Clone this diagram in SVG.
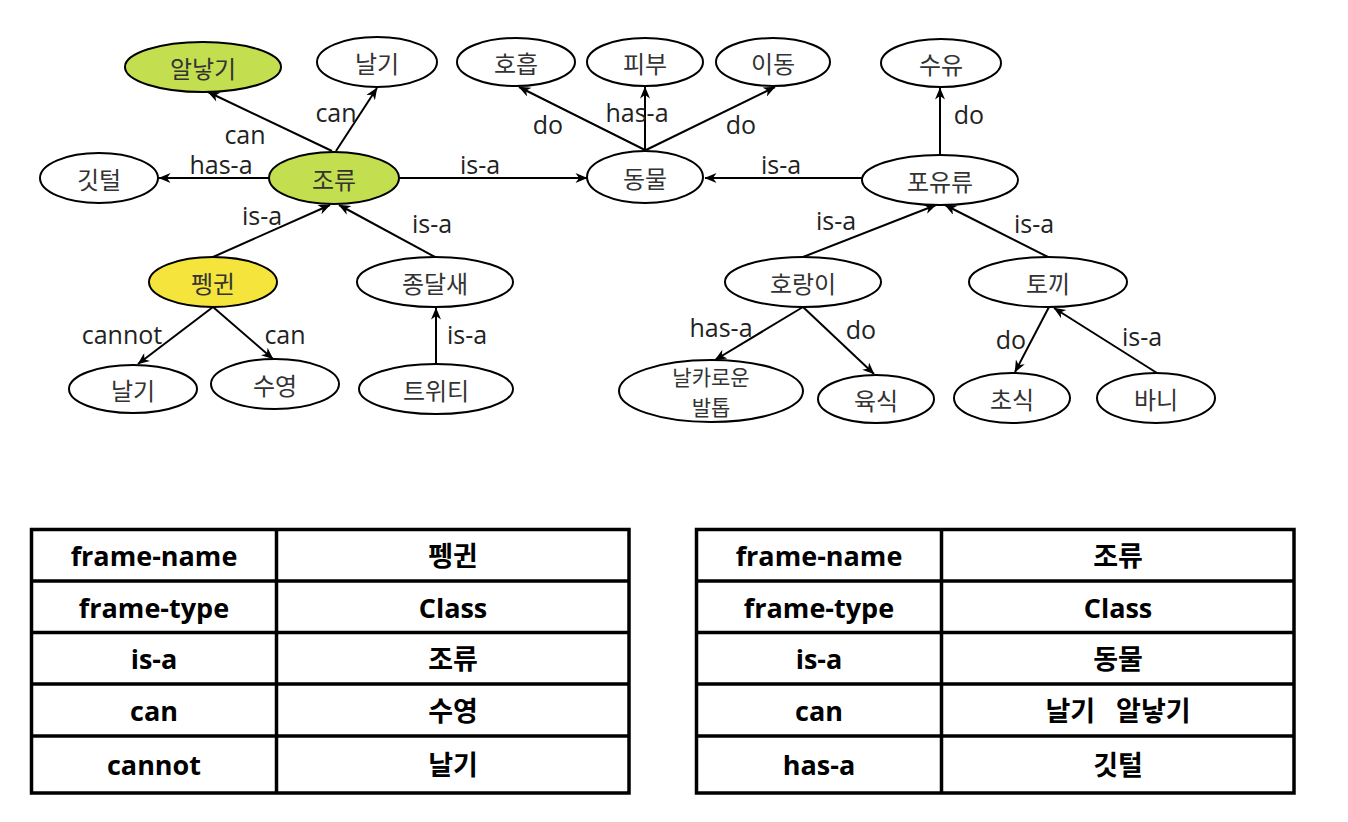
<svg xmlns="http://www.w3.org/2000/svg" width="1348" height="822" viewBox="0 0 1348 822">
<defs>
<marker id="arr" viewBox="0 0 12 10" refX="11.5" refY="5" markerWidth="13" markerHeight="10" markerUnits="userSpaceOnUse" orient="auto">
<path d="M0,0 L12,5 L0,10 L3.5,5 Z" fill="#000"/>
</marker>
</defs>
<style>
.node ellipse{fill:#fff;stroke:#000;stroke-width:2}
.node.green ellipse{fill:#c3df4f}
.node.yellow ellipse{fill:#f5e43c}
.nt{font-family:"Noto Sans CJK KR",sans-serif;font-size:24px;fill:#333;text-anchor:middle;dominant-baseline:central}
.nt.sm{font-size:21px}
.edges line{stroke:#000;stroke-width:2;marker-end:url(#arr)}
.lbl{font-family:"Open Sans","Noto Sans CJK KR",sans-serif;font-size:25px;fill:#222;text-anchor:middle;dominant-baseline:central}
.tbl rect{fill:#fff;stroke:#000;stroke-width:3.5}
.tbl line{stroke:#000;stroke-width:3.5}
.tt{font-family:"Open Sans","Noto Sans CJK KR",sans-serif;font-weight:bold;font-size:27px;fill:#000;text-anchor:middle;dominant-baseline:central}
</style>
<rect width="1348" height="822" fill="#fff"/>

<g id="connectors" class="edges">
<line x1="332" y1="151" x2="208" y2="92"/>
<line x1="336" y1="151" x2="377" y2="88"/>
<line x1="269" y1="178" x2="159" y2="178"/>
<line x1="399" y1="178" x2="587" y2="178"/>
<line x1="213" y1="257" x2="330" y2="205"/>
<line x1="435" y1="257" x2="339" y2="205"/>
<line x1="213" y1="307" x2="138" y2="364"/>
<line x1="213" y1="307" x2="273" y2="359"/>
<line x1="436" y1="364" x2="436" y2="308"/>
<line x1="645" y1="150" x2="519" y2="87"/>
<line x1="645" y1="150" x2="645" y2="87"/>
<line x1="646" y1="150" x2="775" y2="87"/>
<line x1="862" y1="178" x2="705" y2="178"/>
<line x1="940" y1="155" x2="940" y2="88"/>
<line x1="803" y1="257" x2="936" y2="205"/>
<line x1="1048" y1="257" x2="945" y2="205"/>
<line x1="803" y1="307" x2="715" y2="360"/>
<line x1="803" y1="307" x2="874" y2="374"/>
<line x1="1049" y1="307" x2="1015" y2="372"/>
<line x1="1157" y1="373" x2="1054" y2="308"/>
</g>

<g id="edge-labels">
<text class="lbl" x="245" y="134">can</text>
<text class="lbl" x="336" y="112">can</text>
<text class="lbl" x="221" y="164">has-a</text>
<text class="lbl" x="480" y="164">is-a</text>
<text class="lbl" x="262" y="215">is-a</text>
<text class="lbl" x="432" y="223">is-a</text>
<text class="lbl" x="122" y="334">cannot</text>
<text class="lbl" x="285" y="334">can</text>
<text class="lbl" x="467" y="334">is-a</text>
<text class="lbl" x="548" y="124">do</text>
<text class="lbl" x="637" y="112">has-a</text>
<text class="lbl" x="741" y="124">do</text>
<text class="lbl" x="781" y="164">is-a</text>
<text class="lbl" x="969" y="114">do</text>
<text class="lbl" x="836" y="220">is-a</text>
<text class="lbl" x="1034" y="223">is-a</text>
<text class="lbl" x="721" y="327">has-a</text>
<text class="lbl" x="861" y="329">do</text>
<text class="lbl" x="1011" y="339">do</text>
<text class="lbl" x="1142" y="336">is-a</text>
</g>

<g id="n-alnatgi" class="node green"><ellipse cx="203" cy="67" rx="78" ry="25"/><text class="nt" x="203" y="67">알낳기</text></g>
<g id="n-nalgi1" class="node"><ellipse cx="377" cy="62" rx="60" ry="25"/><text class="nt" x="377" y="62">날기</text></g>
<g id="n-gitteol" class="node"><ellipse cx="99" cy="178" rx="59" ry="25"/><text class="nt" x="99" y="178">깃털</text></g>
<g id="n-joryu" class="node green"><ellipse cx="334" cy="178" rx="65" ry="26"/><text class="nt" x="334" y="178">조류</text></g>
<g id="n-hoheup" class="node"><ellipse cx="516" cy="62" rx="59" ry="24"/><text class="nt" x="516" y="62">호흡</text></g>
<g id="n-pibu" class="node"><ellipse cx="645" cy="62" rx="58" ry="24"/><text class="nt" x="645" y="62">피부</text></g>
<g id="n-idong" class="node"><ellipse cx="773" cy="62" rx="57" ry="24"/><text class="nt" x="773" y="62">이동</text></g>
<g id="n-dongmul" class="node"><ellipse cx="645" cy="177" rx="58" ry="26"/><text class="nt" x="645" y="177">동물</text></g>
<g id="n-suyu" class="node"><ellipse cx="941" cy="63" rx="60" ry="24"/><text class="nt" x="941" y="63">수유</text></g>
<g id="n-poyuryu" class="node"><ellipse cx="940" cy="180" rx="78" ry="25"/><text class="nt" x="940" y="180">포유류</text></g>
<g id="n-penguin" class="node yellow"><ellipse cx="213" cy="282" rx="64" ry="25"/><text class="nt" x="213" y="282">펭귄</text></g>
<g id="n-jongdalsae" class="node"><ellipse cx="435" cy="282" rx="78" ry="25"/><text class="nt" x="435" y="282">종달새</text></g>
<g id="n-nalgi2" class="node"><ellipse cx="133" cy="389" rx="64" ry="24"/><text class="nt" x="133" y="389">날기</text></g>
<g id="n-suyeong" class="node"><ellipse cx="275" cy="384" rx="64" ry="25"/><text class="nt" x="275" y="384">수영</text></g>
<g id="n-tweety" class="node"><ellipse cx="436" cy="389" rx="77" ry="25"/><text class="nt" x="436" y="389">트위티</text></g>
<g id="n-horangi" class="node"><ellipse cx="803" cy="282" rx="78" ry="25"/><text class="nt" x="803" y="282">호랑이</text></g>
<g id="n-tokki" class="node"><ellipse cx="1048" cy="282" rx="79" ry="25"/><text class="nt" x="1048" y="282">토끼</text></g>
<g id="n-baltop" class="node"><ellipse cx="711" cy="391" rx="92" ry="31"/><text class="nt sm" x="711" y="376"><tspan x="711" y="376">날카로운</tspan><tspan x="711" y="406">발톱</tspan></text></g>
<g id="n-yuksik" class="node"><ellipse cx="876" cy="399" rx="58" ry="24"/><text class="nt" x="876" y="399">육식</text></g>
<g id="n-chosik" class="node"><ellipse cx="1012" cy="398" rx="58" ry="25"/><text class="nt" x="1012" y="398">초식</text></g>
<g id="n-bani" class="node"><ellipse cx="1156" cy="398" rx="59" ry="25"/><text class="nt" x="1156" y="398">바니</text></g>

<g id="table-penguin" class="tbl">
<rect x="31.5" y="529.5" width="597.5" height="263.5"/>
<line x1="276.5" y1="529.5" x2="276.5" y2="793"/>
<line x1="31.5" y1="581" x2="629" y2="581"/>
<line x1="31.5" y1="632.5" x2="629" y2="632.5"/>
<line x1="31.5" y1="684" x2="629" y2="684"/>
<line x1="31.5" y1="736" x2="629" y2="736"/>
<text class="tt" x="154" y="555">frame-name</text><text class="tt" x="453" y="555">펭귄</text>
<text class="tt" x="154" y="607">frame-type</text><text class="tt" x="453" y="607">Class</text>
<text class="tt" x="154" y="658">is-a</text><text class="tt" x="453" y="658">조류</text>
<text class="tt" x="154" y="710">can</text><text class="tt" x="453" y="710">수영</text>
<text class="tt" x="154" y="764">cannot</text><text class="tt" x="453" y="764">날기</text>
</g>

<g id="table-joryu" class="tbl">
<rect x="696.5" y="529.5" width="597.5" height="263.5"/>
<line x1="941.5" y1="529.5" x2="941.5" y2="793"/>
<line x1="696.5" y1="581" x2="1294" y2="581"/>
<line x1="696.5" y1="632.5" x2="1294" y2="632.5"/>
<line x1="696.5" y1="684" x2="1294" y2="684"/>
<line x1="696.5" y1="736" x2="1294" y2="736"/>
<text class="tt" x="819" y="555">frame-name</text><text class="tt" x="1118" y="555">조류</text>
<text class="tt" x="819" y="607">frame-type</text><text class="tt" x="1118" y="607">Class</text>
<text class="tt" x="819" y="658">is-a</text><text class="tt" x="1118" y="658">동물</text>
<text class="tt" x="819" y="710">can</text><text class="tt" x="1118" y="710" xml:space="preserve">날기   알낳기</text>
<text class="tt" x="819" y="764">has-a</text><text class="tt" x="1118" y="764">깃털</text>
</g>
</svg>
